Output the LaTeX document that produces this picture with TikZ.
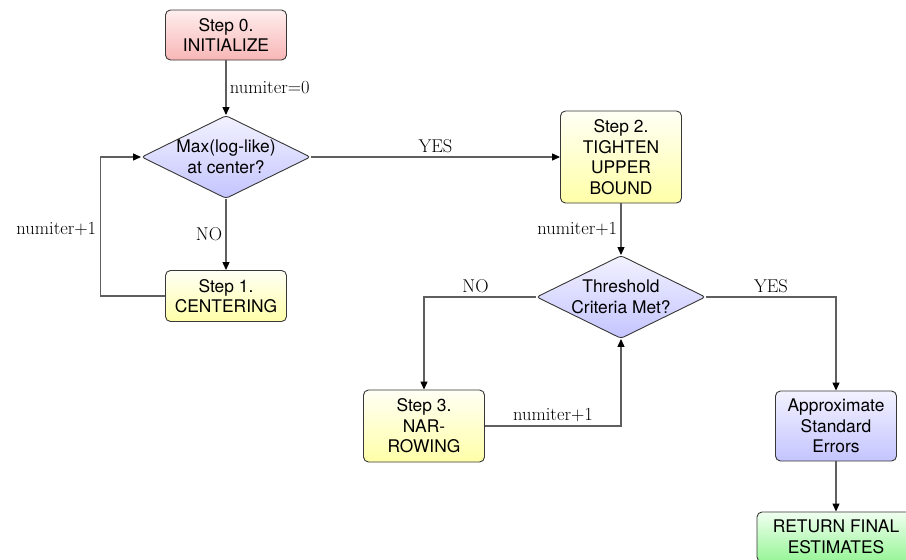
\documentclass[tikz,border=0pt]{standalone}
\usepackage{fontspec}
\setsansfont{TeX Gyre Heros}
\usetikzlibrary{shapes.geometric,arrows.meta}

\definecolor{boxline}{RGB}{55,55,55}
\definecolor{linegray}{RGB}{95,95,95}
\definecolor{redtop}{RGB}{255,238,238}
\definecolor{redbot}{RGB}{248,182,182}
\definecolor{yeltop}{RGB}{255,255,245}
\definecolor{yelbot}{RGB}{255,255,168}
\definecolor{bluetop}{RGB}{242,242,255}
\definecolor{bluebot}{RGB}{196,196,255}
\definecolor{greentop}{RGB}{240,255,240}
\definecolor{greenbot}{RGB}{150,245,150}

\begin{document}
\begin{tikzpicture}[x=1pt,y=-1pt,
  nodefont/.style={font=\sffamily\fontsize{17.4}{20.5}\selectfont},
  box/.style={nodefont, draw=boxline, line width=0.9pt, rounded corners=5pt,
    minimum width=121pt, align=center, inner sep=2pt},
  redbox/.style={box, top color=redtop, bottom color=redbot},
  yelbox/.style={box, top color=yeltop, bottom color=yelbot},
  bluebox/.style={box, top color=bluetop, bottom color=bluebot},
  greenbox/.style={box, top color=greentop, bottom color=greenbot},
  decision/.style={diamond, draw=boxline, line width=0.9pt, rounded corners=3pt,
    top color=bluetop, bottom color=bluebot, inner sep=0pt,
    minimum width=169pt, minimum height=83pt},
  intext/.style={nodefont, align=center},
  flow/.style={draw=linegray, line width=1.1pt, -{Triangle[length=8pt,width=7pt,color=black]}},
  lbl/.style={font=\fontsize{18.5}{22}\selectfont}
]
\useasboundingbox (0,0) rectangle (906,560);

% boxes and decisions
\node[redbox, minimum height=50pt] (s0) at (226,35) {Step 0.\\INITIALIZE};
\node[decision, label={[intext]center:{Max(log-like)\\at center?}}] (d1) at (226,157) {};
\node[yelbox, minimum height=51pt] (s1) at (226,296) {Step 1.\\CENTERING};
\node[yelbox, minimum height=92pt] (s2) at (621,157) {Step 2.\\TIGHTEN\\UPPER\\BOUND};
\node[decision, label={[intext]center:{Threshold\\Criteria Met?}}] (d2) at (621,297) {};
\node[yelbox, minimum height=72pt] (s3) at (424,426) {Step 3.\\NAR-\\ROWING};
\node[bluebox, minimum height=70pt] (ase) at (836,426) {Approximate\\Standard\\Errors};
\node[greenbox, minimum height=50pt, minimum width=158pt] (ret) at (836,537) {RETURN FINAL\\ESTIMATES};

% connectors
\draw[flow] (s0) -- node[lbl, right] {numiter=0} (d1);
\draw[flow] (d1) -- node[lbl, left] {NO} (s1);
\draw[flow] (s1.west) -- ++(-65,0) |- node[lbl, left, pos=0.24] {numiter+1} (d1.west);
\draw[flow] (d1.east) -- node[lbl, above] {YES} (s2.west);
\draw[flow] (s2) -- node[lbl, left] {numiter+1} (d2);
\draw[flow] (d2.west) -| node[lbl, above, pos=0.27] {NO} (s3.north);
\draw[flow] (s3.east) -| node[lbl, above, pos=0.25] {numiter+1} (d2.south);
\draw[flow] (d2.east) -| node[lbl, above, pos=0.25] {YES} (ase.north);
\draw[flow] (ase) -- (ret);
\end{tikzpicture}
\end{document}
